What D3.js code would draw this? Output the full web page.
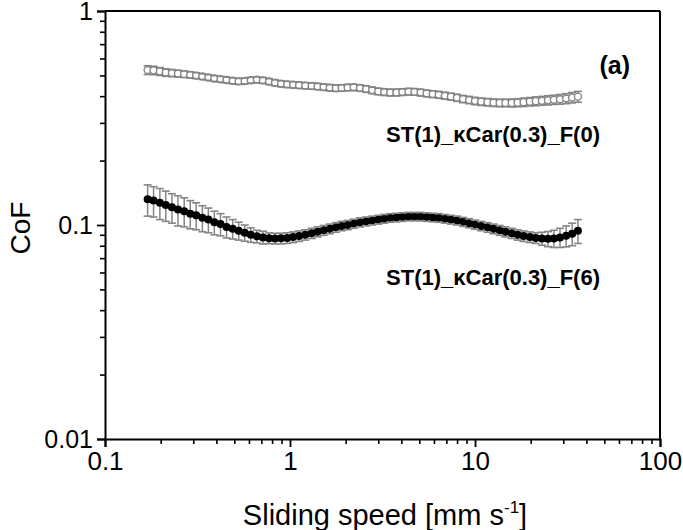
<!DOCTYPE html>
<html>
<head>
<meta charset="utf-8">
<script src="https://cdn.jsdelivr.net/npm/d3@7"></script>
<style>
  body { margin: 0; background: #fff; }
  text { font-family: "Liberation Sans", Arial, sans-serif; }
</style>
</head>
<body>
<div id="chart"></div>
<script>
// sliding speed [mm/s]
var speed = [0.170, 0.183, 0.198, 0.213, 0.230, 0.248, 0.268, 0.289, 0.311, 0.336,
             0.362, 0.390, 0.421, 0.454, 0.490, 0.528, 0.569, 0.614, 0.662, 0.714,
             0.770, 0.830, 0.895, 0.966, 1.04, 1.12, 1.21, 1.31, 1.41, 1.52,
             1.64, 1.77, 1.90, 2.05, 2.21, 2.39, 2.58, 2.78, 3.00, 3.23,
             3.48, 3.76, 4.05, 4.37, 4.71, 5.08, 5.48, 5.91, 6.37, 6.87,
             7.41, 7.99, 8.62, 9.29, 10.0, 10.8, 11.7, 12.6, 13.6, 14.6,
             15.8, 17.0, 18.3, 19.8, 21.3, 23.0, 24.8, 26.7, 28.8, 31.1,
             33.5, 36.0];

// ST(1)_kCar(0.3)_F(0)
var cofF0 = [0.530, 0.528, 0.522, 0.516, 0.513, 0.510, 0.507, 0.503, 0.499, 0.494,
             0.489, 0.484, 0.480, 0.476, 0.472, 0.469, 0.471, 0.475, 0.477, 0.474,
             0.468, 0.462, 0.457, 0.454, 0.452, 0.450, 0.448, 0.446, 0.444, 0.441,
             0.438, 0.436, 0.437, 0.439, 0.440, 0.437, 0.432, 0.426, 0.421, 0.418,
             0.416, 0.416, 0.418, 0.420, 0.419, 0.416, 0.412, 0.409, 0.406, 0.402,
             0.398, 0.393, 0.388, 0.384, 0.380, 0.377, 0.375, 0.373, 0.372, 0.372,
             0.372, 0.373, 0.375, 0.377, 0.379, 0.381, 0.383, 0.385, 0.387, 0.390,
             0.394, 0.398];
var errF0 = [0.025, 0.024, 0.022, 0.021, 0.020, 0.019, 0.018, 0.017, 0.016, 0.015,
             0.015, 0.015, 0.015, 0.015, 0.015, 0.015, 0.015, 0.015, 0.015, 0.015,
             0.015, 0.015, 0.015, 0.015, 0.015, 0.015, 0.015, 0.015, 0.015, 0.015,
             0.015, 0.015, 0.015, 0.015, 0.015, 0.015, 0.015, 0.015, 0.015, 0.015,
             0.015, 0.015, 0.015, 0.015, 0.015, 0.015, 0.015, 0.015, 0.015, 0.015,
             0.015, 0.015, 0.015, 0.015, 0.015, 0.015, 0.015, 0.015, 0.015, 0.015,
             0.016, 0.016, 0.017, 0.017, 0.018, 0.018, 0.019, 0.019, 0.020, 0.021,
             0.022, 0.023];

// ST(1)_kCar(0.3)_F(6)
var cofF6 = [0.132, 0.130, 0.127, 0.124, 0.121, 0.118, 0.116, 0.113, 0.111, 0.108,
             0.106, 0.103, 0.101, 0.098, 0.096, 0.094, 0.092, 0.090, 0.0885, 0.0875,
             0.0868, 0.0865, 0.0866, 0.0870, 0.0878, 0.0888, 0.090, 0.0915, 0.093, 0.0945,
             0.096, 0.0975, 0.099, 0.100, 0.1015, 0.103, 0.104, 0.105, 0.106, 0.107,
             0.108, 0.1085, 0.109, 0.1095, 0.1095, 0.1095, 0.109, 0.1085, 0.108, 0.107,
             0.106, 0.105, 0.1035, 0.102, 0.1005, 0.099, 0.0975, 0.096, 0.0945, 0.093,
             0.0915, 0.090, 0.0888, 0.0878, 0.087, 0.0865, 0.0862, 0.0865, 0.0875, 0.089,
             0.091, 0.094];
var errF6 = [0.022, 0.021, 0.021, 0.020, 0.019, 0.019, 0.018, 0.017, 0.016, 0.015,
             0.014, 0.013, 0.012, 0.011, 0.010, 0.009, 0.008, 0.007, 0.006, 0.006,
             0.005, 0.005, 0.005, 0.005, 0.005, 0.005, 0.005, 0.005, 0.005, 0.005,
             0.005, 0.005, 0.005, 0.005, 0.005, 0.005, 0.005, 0.005, 0.005, 0.005,
             0.005, 0.005, 0.005, 0.005, 0.005, 0.005, 0.005, 0.005, 0.005, 0.005,
             0.005, 0.005, 0.005, 0.005, 0.005, 0.005, 0.005, 0.005, 0.005, 0.005,
             0.005, 0.005, 0.005, 0.005, 0.005, 0.006, 0.007, 0.008, 0.009, 0.010,
             0.011, 0.012];

var xMajor = [0.1, 1, 10, 100];
var yMajor = [0.01, 0.1, 1];
var xMajorLabels = ["0.1", "1", "10", "100"];
var yMajorLabels = ["0.01", "0.1", "1"];

var width = 683;
var height = 530;
var plotL = 105, plotR = 660, plotT = 11, plotB = 439;
var grey = "#858585";

var svg = d3.select("#chart")
  .append("svg")
  .attr("width", width)
  .attr("height", height);

var xScale = d3.scaleLog().domain([0.1, 100]).range([plotL, plotR]);
var yScale = d3.scaleLog().domain([0.01, 1]).range([plotB, plotT]);

// minor ticks 2..9 of every decade
var xMinor = xScale.ticks().filter(d => xMajor.indexOf(d) < 0);
var yMinor = yScale.ticks().filter(d => yMajor.indexOf(d) < 0);

// axes
svg.append("g")
  .attr("transform", "translate(0," + plotB + ")")
  .call(d3.axisBottom(xScale).tickValues(xMinor).tickSize(5).tickFormat(""))
  .call(g => g.select(".domain").remove())
  .selectAll("line").attr("stroke-width", 1.6);

svg.append("g")
  .attr("transform", "translate(0," + plotB + ")")
  .call(d3.axisBottom(xScale).tickValues(xMajor).tickSizeOuter(0).tickSize(8)
    .tickFormat((d, i) => xMajorLabels[i]).tickPadding(5))
  .call(g => g.select(".domain").attr("stroke-width", 2))
  .call(g => g.selectAll("line").attr("stroke-width", 1.8))
  .selectAll("text")
  .style("font-size", "26px")
  .attr("fill", "#000");

svg.append("g")
  .attr("transform", "translate(" + plotL + ",0)")
  .call(d3.axisLeft(yScale).tickValues(yMinor).tickSize(5).tickFormat(""))
  .call(g => g.select(".domain").remove())
  .selectAll("line").attr("stroke-width", 1.6);

svg.append("g")
  .attr("transform", "translate(" + plotL + ",0)")
  .call(d3.axisLeft(yScale).tickValues(yMajor).tickSizeOuter(0).tickSize(8)
    .tickFormat((d, i) => yMajorLabels[i]).tickPadding(4))
  .call(g => g.select(".domain").attr("stroke-width", 2))
  .call(g => g.selectAll("line").attr("stroke-width", 1.8))
  .selectAll("text")
  .style("font-size", "25px")
  .attr("fill", "#000");

// top and right frame
svg.append("line")
  .attr("x1", plotL).attr("x2", plotR).attr("y1", plotT).attr("y2", plotT)
  .attr("stroke", "#000").attr("stroke-width", 2);
svg.append("line")
  .attr("x1", plotR).attr("x2", plotR).attr("y1", plotT).attr("y2", plotB)
  .attr("stroke", "#000").attr("stroke-width", 2);

// error bars: stems under the symbols, caps over them
function drawSeries(values, errs, fill, stroke, r) {
  var pts = speed.map((s, i) => ({ x: s, y: values[i], e: errs[i] }));
  var g = svg.append("g");

  g.selectAll(".stem")
    .data(pts)
    .enter()
    .append("line")
    .attr("x1", d => xScale(d.x))
    .attr("x2", d => xScale(d.x))
    .attr("y1", d => yScale(d.y + d.e))
    .attr("y2", d => yScale(d.y - d.e))
    .attr("stroke", grey)
    .attr("stroke-width", 1.5);

  g.selectAll("circle")
    .data(pts)
    .enter()
    .append("circle")
    .attr("cx", d => xScale(d.x))
    .attr("cy", d => yScale(d.y))
    .attr("r", r)
    .attr("fill", fill)
    .attr("stroke", stroke)
    .attr("stroke-width", 1.4);

  ["top", "bot"].forEach(function (side) {
    g.selectAll(".cap-" + side)
      .data(pts)
      .enter()
      .append("line")
      .attr("x1", d => xScale(d.x) - 4)
      .attr("x2", d => xScale(d.x) + 4)
      .attr("y1", d => yScale(side == "top" ? d.y + d.e : d.y - d.e))
      .attr("y2", d => yScale(side == "top" ? d.y + d.e : d.y - d.e))
      .attr("stroke", grey)
      .attr("stroke-width", 1.6);
  });
}

drawSeries(cofF0, errF0, "#fff", grey, 3.5);
drawSeries(cofF6, errF6, "#000", "#000", 3.3);

// labels
svg.append("text")
  .attr("x", 630).attr("y", 74)
  .attr("text-anchor", "end")
  .style("font-size", "25px").style("font-weight", "bold")
  .text("(a)");

svg.append("text")
  .attr("x", 600).attr("y", 142)
  .attr("text-anchor", "end")
  .style("font-size", "22px").style("font-weight", "bold")
  .text("ST(1)_κCar(0.3)_F(0)");

svg.append("text")
  .attr("x", 600).attr("y", 285)
  .attr("text-anchor", "end")
  .style("font-size", "22px").style("font-weight", "bold")
  .text("ST(1)_κCar(0.3)_F(6)");

var xTitle = svg.append("text")
  .attr("x", 385).attr("y", 525)
  .attr("text-anchor", "middle")
  .style("font-size", "29px");
xTitle.append("tspan").text("Sliding speed [mm s");
xTitle.append("tspan").attr("dy", -12).style("font-size", "17px").text("-1");
xTitle.append("tspan").attr("dy", 12).text("]");

svg.append("text")
  .attr("transform", "translate(30,228) rotate(-90)")
  .attr("text-anchor", "middle")
  .style("font-size", "28px")
  .text("CoF");
</script>
</body>
</html>
